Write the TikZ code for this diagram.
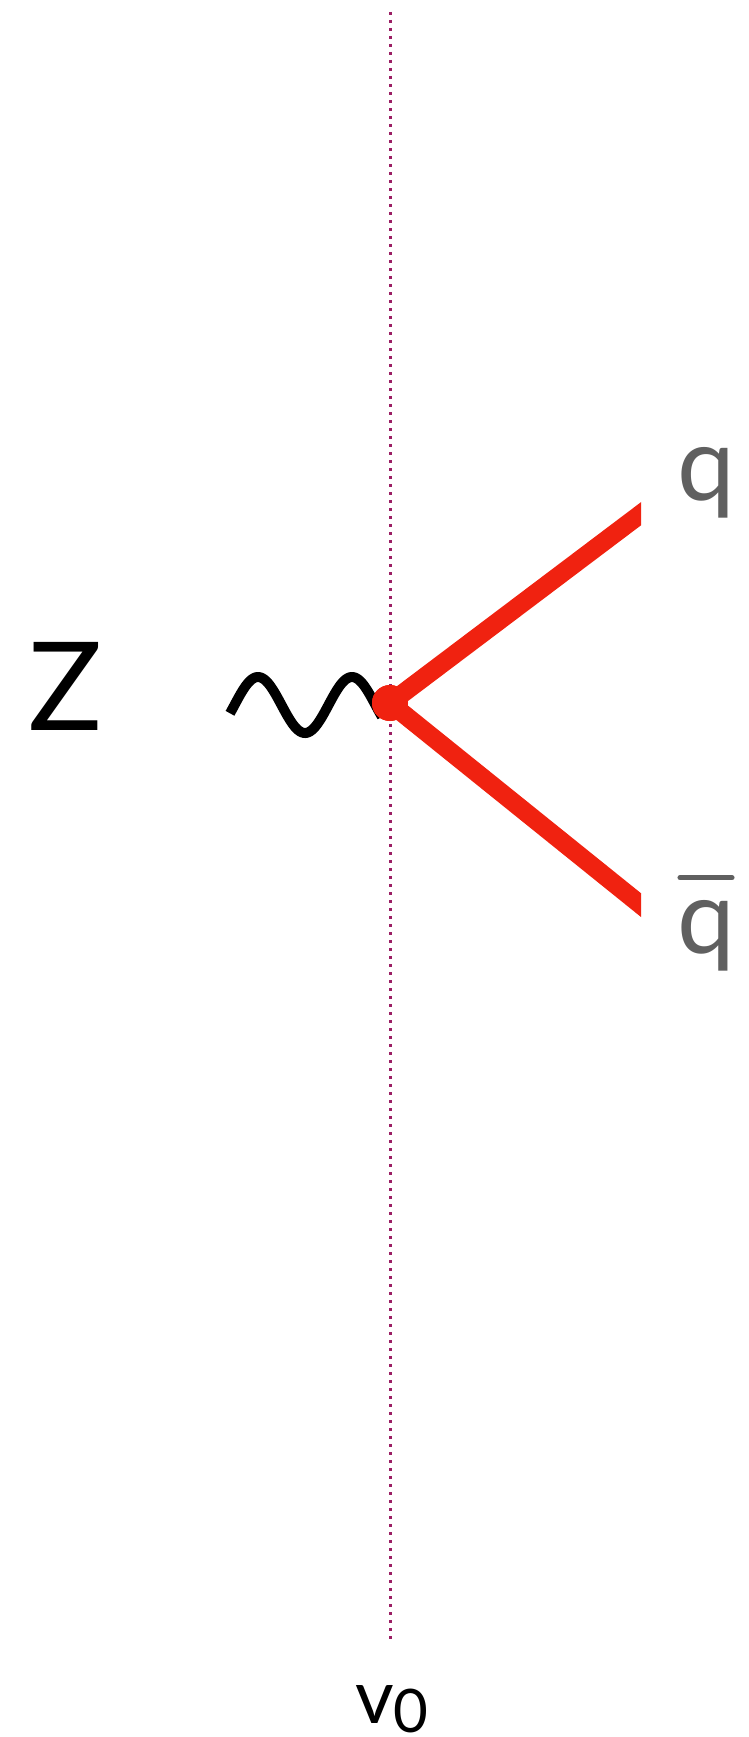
\documentclass[tikz,border=0pt]{standalone}
\usepackage{fontspec}
\setmainfont{Lato}
\usetikzlibrary{calc}
\definecolor{qred}{RGB}{240,34,16}
\definecolor{qgray}{RGB}{96,96,96}
\definecolor{dotpurple}{RGB}{155,30,100}
\begin{document}
\begin{tikzpicture}[x=1pt,y=-1pt,
  fermion/.style={qred, line width=18.5pt},
  boson/.style={black, line width=10pt},
  lbl/.style={inner sep=0pt, anchor=base},
  dotline/.style={dotpurple, line width=3pt, dash pattern=on 3pt off 5pt}]
\useasboundingbox (0,0) rectangle (748,1737);
\coordinate (dtop) at (390,12);
\coordinate (dbot) at (390,1640);
\draw[dotline] (dtop) -- (dbot);
\draw[boson] plot[domain=230:382, samples=90] (\x, {705 - 28*cos((\x-258)*3.8298)});
\node[circle, fill=qred, minimum size=36pt, inner sep=0pt] (v) at (390,703) {};
\coordinate (qe) at (660,499.4);
\coordinate (qbe) at (660,920.4);
\begin{scope}
\clip (0,0) rectangle (641,1737);
\draw[fermion] (v.center) -- (qe);
\draw[fermion] (v.center) -- (qbe);
\end{scope}
\node[circle, fill=qred, minimum size=36pt, inner sep=0pt] at (v.center) {};
\node[lbl, font=\fontsize{123}{123}\selectfont] (Z) at (66,730) {Z};
\node[lbl, text=qgray, font=\fontsize{103}{103}\selectfont] (q) at (706,500) {q};
\node[lbl, text=qgray, font=\fontsize{103}{103}\selectfont] (qb) at (706,953) {q};
\draw[qgray, line width=5pt, line cap=round] ($(qb.north west)+(3,-22)$) -- ($(qb.north east)+(-3,-22)$);
\node[lbl, font=\fontsize{75}{75}\selectfont] (v0) at (392,1723) {v\raisebox{-9pt}{\fontsize{60}{60}\selectfont 0}};
\end{tikzpicture}
\end{document}
